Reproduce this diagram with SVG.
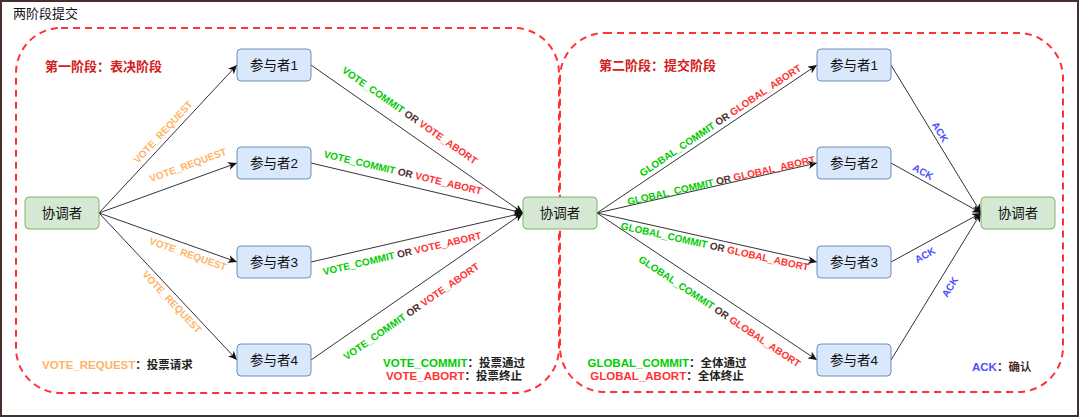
<svg xmlns="http://www.w3.org/2000/svg" width="1080" height="418" viewBox="0 0 1080 418">
<style>
text{font-family:"Liberation Sans","Noto Sans CJK SC",sans-serif;}
.frame{fill:#fff;stroke:#47302c;stroke-width:2;}
.phase{fill:none;stroke:#ff3333;stroke-width:2;stroke-dasharray:7 5;}
.coord rect{fill:#d5e8d4;stroke:#82b366;stroke-width:1;}
.part rect{fill:#dae8fc;stroke:#6c8ebf;stroke-width:1;}
.node text{font-size:13.5px;fill:#111;text-anchor:middle;dominant-baseline:central;}
.edge{stroke:#333;stroke-width:1;fill:none;marker-end:url(#arr);}
.lbl{font-size:10px;font-weight:bold;text-anchor:middle;dominant-baseline:central;}
.req{fill:#ffb366;}
.cm{fill:#00cc00;}
.ab{fill:#ff3333;}
.or{fill:#4d2e2e;}
.ack{fill:#4d4dff;}
.leg{font-size:11.5px;font-weight:bold;dominant-baseline:central;}
.dark{fill:#222;}
.ptitle{font-size:13px;font-weight:bold;fill:#d42020;dominant-baseline:central;}
</style>
<defs>
<marker id="arr" markerWidth="10" markerHeight="8" refX="9" refY="4" orient="auto" markerUnits="userSpaceOnUse">
<path d="M0,0 L9,4 L0,8 L2.5,4 Z" fill="#111"/>
</marker>
</defs>
<rect class="frame" x="1" y="1" width="1077" height="415"/>
<text x="13" y="13" font-size="13" fill="#111" dominant-baseline="central">两阶段提交</text>
<g id="phase1">
<rect class="phase" x="16" y="28" width="543" height="365" rx="45" ry="45"/>
<text class="ptitle" x="45" y="66">第一阶段：表决阶段</text>
</g>
<g id="phase2">
<rect class="phase" x="560" y="33" width="503" height="359" rx="45" ry="45"/>
<text class="ptitle" x="599" y="65">第二阶段：提交阶段</text>
</g>
<g id="connectors">
<line class="edge" x1="99" y1="213" x2="237" y2="65"/>
<line class="edge" x1="99" y1="213" x2="237" y2="163"/>
<line class="edge" x1="99" y1="213" x2="237" y2="262"/>
<line class="edge" x1="99" y1="213" x2="237" y2="360"/>
<line class="edge" x1="311" y1="65" x2="523" y2="213"/>
<line class="edge" x1="311" y1="163" x2="523" y2="213"/>
<line class="edge" x1="311" y1="262" x2="523" y2="213"/>
<line class="edge" x1="311" y1="360" x2="523" y2="213"/>
<line class="edge" x1="597" y1="213" x2="817" y2="65"/>
<line class="edge" x1="597" y1="213" x2="817" y2="163"/>
<line class="edge" x1="597" y1="213" x2="817" y2="262"/>
<line class="edge" x1="597" y1="213" x2="817" y2="360"/>
<line class="edge" x1="891" y1="65" x2="981" y2="213"/>
<line class="edge" x1="891" y1="163" x2="981" y2="213"/>
<line class="edge" x1="891" y1="262" x2="981" y2="213"/>
<line class="edge" x1="891" y1="360" x2="981" y2="213"/>
<text class="lbl req" transform="translate(163,132) rotate(-47)">VOTE_REQUEST</text>
<text class="lbl req" transform="translate(188,165) rotate(-20)">VOTE_REQUEST</text>
<text class="lbl req" transform="translate(188,254) rotate(19.5)">VOTE_REQUEST</text>
<text class="lbl req" transform="translate(172,302) rotate(46.8)">VOTE_REQUEST</text>
<text class="lbl" transform="translate(410,115) rotate(34.9)"><tspan class="cm">VOTE_COMMIT</tspan><tspan class="or"> OR </tspan><tspan class="ab">VOTE_ABORT</tspan></text>
<text class="lbl" transform="translate(403,172) rotate(13.3)"><tspan class="cm">VOTE_COMMIT</tspan><tspan class="or"> OR </tspan><tspan class="ab">VOTE_ABORT</tspan></text>
<text class="lbl" transform="translate(402,253) rotate(-13)"><tspan class="cm">VOTE_COMMIT</tspan><tspan class="or"> OR </tspan><tspan class="ab">VOTE_ABORT</tspan></text>
<text class="lbl" transform="translate(411,311) rotate(-34.7)"><tspan class="cm">VOTE_COMMIT</tspan><tspan class="or"> OR </tspan><tspan class="ab">VOTE_ABORT</tspan></text>
<text class="lbl" transform="translate(720,120) rotate(-33.9)"><tspan class="cm">GLOBAL_COMMIT</tspan><tspan class="or"> OR </tspan><tspan class="ab">GLOBAL_ABORT</tspan></text>
<text class="lbl" transform="translate(721,180) rotate(-12.8)"><tspan class="cm">GLOBAL_COMMIT</tspan><tspan class="or"> OR </tspan><tspan class="ab">GLOBAL_ABORT</tspan></text>
<text class="lbl" transform="translate(715,246) rotate(12.6)"><tspan class="cm">GLOBAL_COMMIT</tspan><tspan class="or"> OR </tspan><tspan class="ab">GLOBAL_ABORT</tspan></text>
<text class="lbl" transform="translate(720,311) rotate(33.75)"><tspan class="cm">GLOBAL_COMMIT</tspan><tspan class="or"> OR </tspan><tspan class="ab">GLOBAL_ABORT</tspan></text>
<text class="lbl ack" transform="translate(940,132) rotate(58.7)">ACK</text>
<text class="lbl ack" transform="translate(923,172) rotate(29.1)">ACK</text>
<text class="lbl ack" transform="translate(925,255) rotate(-28.6)">ACK</text>
<text class="lbl ack" transform="translate(950,287) rotate(-58.5)">ACK</text>
</g>
<g id="coord1" class="node coord"><rect x="25" y="197" width="74" height="32" rx="4"/><text x="62" y="213">协调者</text></g>
<g id="p1a" class="node part"><rect x="237" y="49" width="74" height="32" rx="4"/><text x="274" y="65">参与者1</text></g>
<g id="p2a" class="node part"><rect x="237" y="147" width="74" height="32" rx="4"/><text x="274" y="163">参与者2</text></g>
<g id="p3a" class="node part"><rect x="237" y="246" width="74" height="32" rx="4"/><text x="274" y="262">参与者3</text></g>
<g id="p4a" class="node part"><rect x="237" y="344" width="74" height="32" rx="4"/><text x="274" y="360">参与者4</text></g>
<g id="coord2" class="node coord"><rect x="523" y="197" width="74" height="32" rx="4"/><text x="560" y="213">协调者</text></g>
<g id="p1b" class="node part"><rect x="817" y="49" width="74" height="32" rx="4"/><text x="854" y="65">参与者1</text></g>
<g id="p2b" class="node part"><rect x="817" y="147" width="74" height="32" rx="4"/><text x="854" y="163">参与者2</text></g>
<g id="p3b" class="node part"><rect x="817" y="246" width="74" height="32" rx="4"/><text x="854" y="262">参与者3</text></g>
<g id="p4b" class="node part"><rect x="817" y="344" width="74" height="32" rx="4"/><text x="854" y="360">参与者4</text></g>
<g id="coord3" class="node coord"><rect x="981" y="197" width="74" height="32" rx="4"/><text x="1018" y="213">协调者</text></g>
<g id="legends">
<text class="leg" x="42" y="365"><tspan class="req">VOTE_REQUEST</tspan><tspan class="dark">：投票请求</tspan></text>
<text class="leg" x="454" y="363" text-anchor="middle"><tspan class="cm">VOTE_COMMIT</tspan><tspan class="dark">：投票通过</tspan></text>
<text class="leg" x="454" y="376" text-anchor="middle"><tspan class="ab">VOTE_ABORT</tspan><tspan class="dark">：投票终止</tspan></text>
<text class="leg" x="667" y="363" text-anchor="middle"><tspan class="cm">GLOBAL_COMMIT</tspan><tspan class="dark">：全体通过</tspan></text>
<text class="leg" x="667" y="376" text-anchor="middle"><tspan class="ab">GLOBAL_ABORT</tspan><tspan class="dark">：全体终止</tspan></text>
<text class="leg" x="972" y="367"><tspan class="ack">ACK</tspan><tspan fill="#4d2e2e">：确认</tspan></text>
</g>
</svg>
